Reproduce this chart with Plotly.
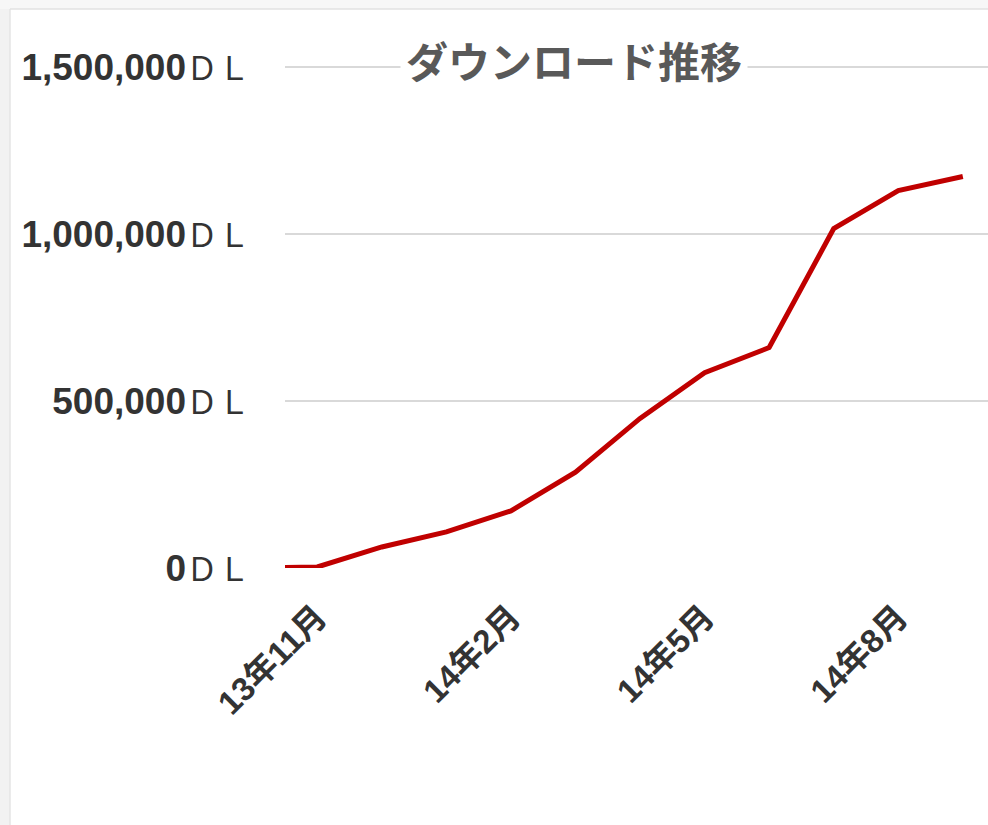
import plotly.graph_objects as go

months = ["13年10月", "13年11月", "13年12月", "14年1月", "14年2月", "14年3月",
          "14年4月", "14年5月", "14年6月", "14年7月", "14年8月", "14年9月"]
downloads = [0, 3000, 63000, 108000, 171000, 287000, 448000, 585000, 660000,
             1016000, 1130000, 1172000]
x_tick_idx = [1, 4, 7, 10]
y_ticks = [0, 500000, 1000000, 1500000]
title_text = "ダウンロード推移"

W, H = 988, 825
L, R, T, B = 285, 0, 58, 257
PW, PH = W - L - R, H - T - B
y_top_px = 67
ymax = y_ticks[-1] * PH / (H - B - y_top_px)

def px_x(px):
    return (px - L) / PW

def px_y(py):
    return (H - B - py) / PH

fig = go.Figure()
fig.add_trace(go.Scatter(
    x=list(range(len(months))), y=downloads, mode="lines",
    line=dict(color="#c00000", width=5), hoverinfo="skip",
    cliponaxis=True,
))

ytext = [f'<b>{v:,}</b><span style="font-weight:normal;font-size:32px">ＤＬ</span>'
         for v in y_ticks]

fig.update_layout(
    width=W, height=H,
    margin=dict(l=L, r=R, t=T, b=B, pad=0),
    paper_bgcolor="white", plot_bgcolor="white",
    showlegend=False,
    font=dict(family="Liberation Sans, Arial, Noto Sans CJK JP", color="#333333"),
    xaxis=dict(
        range=[0.5, 11.39], showgrid=False, zeroline=False, showline=False,
        tickmode="array", tickvals=x_tick_idx,
        ticktext=[f"<b>{months[i]}</b>" for i in x_tick_idx],
        tickangle=-45, ticks="", ticklabelstandoff=22,
        tickfont=dict(size=33, color="#333333",
                      family="Liberation Sans, Arial, Noto Sans CJK JP"),
    ),
    yaxis=dict(
        range=[0, ymax], showgrid=True, gridcolor="#d9d9d9", gridwidth=1.5,
        zeroline=False, showline=False,
        tickmode="array", tickvals=y_ticks, ticktext=ytext,
        ticks="", ticklabelstandoff=34,
        tickfont=dict(size=37, color="#333333",
                      family="Liberation Sans, Arial, Noto Sans CJK JP"),
    ),
    shapes=[
        dict(type="rect", xref="paper", yref="paper",
             x0=px_x(0), x1=px_x(10), y0=px_y(H), y1=px_y(0),
             fillcolor="#f2f2f2", line=dict(width=0), layer="below"),
        dict(type="line", xref="paper", yref="paper",
             x0=px_x(10), x1=px_x(10), y0=px_y(H), y1=px_y(9),
             line=dict(color="#e4e4e4", width=1.5), layer="below"),
        dict(type="rect", xref="paper", yref="paper",
             x0=px_x(0), x1=px_x(W), y0=px_y(9), y1=px_y(0),
             fillcolor="#f7f7f7", line=dict(width=0), layer="below"),
        dict(type="line", xref="paper", yref="paper",
             x0=px_x(10), x1=px_x(W), y0=px_y(9), y1=px_y(9),
             line=dict(color="#e2e2e2", width=1.5), layer="below"),
    ],
    annotations=[dict(
        text=f"<b>{title_text}</b>", xref="paper", yref="paper",
        x=px_x(574), y=px_y(60), xanchor="center", yanchor="middle",
        showarrow=False, bgcolor="white", borderpad=5,
        font=dict(size=42, color="#595959", family="Noto Sans CJK JP"),
    )],
)

fig.write_html("out.html", config={"displayModeBar": False},
               post_script="document.body.style.margin='0';document.body.style.overflow='hidden';")
